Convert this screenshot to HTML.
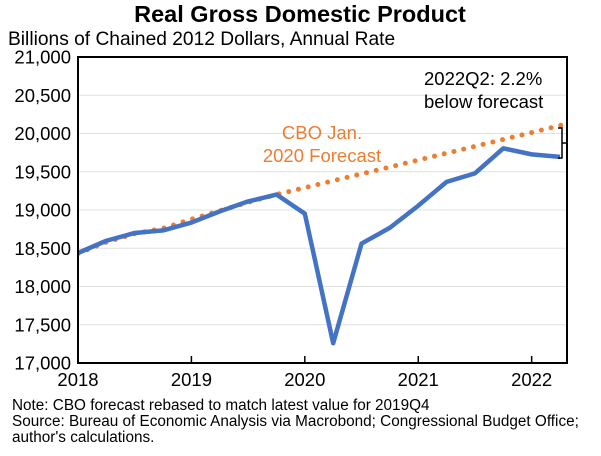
<!DOCTYPE html>
<html><head><meta charset="utf-8"><style>
body{margin:0;background:#fff;font-family:"Liberation Sans",Arial,sans-serif}
svg text{font-family:"Liberation Sans",Arial,sans-serif}
</style></head><body>
<svg id="c" width="601" height="451">
<text x="300" y="22" text-anchor="middle" font-size="23.5" font-weight="bold">Real Gross Domestic Product</text>
<text x="8" y="45" font-size="19.2">Billions of Chained 2012 Dollars, Annual Rate</text>
<g id="grid"></g>
<g id="series"></g>
<rect x="78" y="57" width="489" height="306" fill="none" stroke="#000" stroke-width="2"/>
<g id="axes"></g>
<path d="M558,128 h4 v15 h5 M562,143 v15 h-4" fill="none" stroke="#000" stroke-width="1.5"/>
<text x="424" y="85" font-size="18.5">2022Q2: 2.2%</text>
<text x="424" y="108" font-size="18.5">below forecast</text>
<text x="322" y="139" text-anchor="middle" font-size="18.5" fill="#ED7D31">CBO Jan.</text>
<text x="322" y="162" text-anchor="middle" font-size="18.5" fill="#ED7D31">2020 Forecast</text>
<text x="12" y="410" font-size="15.3">Note: CBO forecast rebased to match latest value for 2019Q4</text>
<text x="12" y="426" font-size="15.3">Source: Bureau of Economic Analysis via Macrobond; Congressional Budget Office;</text>
<text x="12" y="442" font-size="15.3">author's calculations.</text>
</svg>
<script>
const actual=[18438,18598,18700,18733,18836,18982,19112,19202,18952,17258,18561,18768,19056,19368,19479,19806,19727,19695];
const forecast=[18430,18580,18690,18760,18880,18990,19100,19202,19292,19382,19472,19562,19652,19742,19832,19922,20012,20105,20195];
const yTicks=[17000,17500,18000,18500,19000,19500,20000,20500,21000];
const xTicks=["2018","2019","2020","2021","2022"];
const NS="http://www.w3.org/2000/svg";
const X0=78,QW=(560-78)/17;
const x=i=>X0+i*QW;
const y=v=>363-(v-17000)/4000*306;
function mk(t,a,p){const e=document.createElementNS(NS,t);for(const k in a)e.setAttribute(k,a[k]);p.appendChild(e);return e;}
const grid=document.getElementById('grid'),axes=document.getElementById('axes'),ser=document.getElementById('series');
yTicks.forEach(v=>{
 const l=mk('line',{x1:78,x2:567,y1:y(v),y2:y(v),stroke:'#e0e0e0','stroke-width':1},grid);
 
 
 const t=mk('text',{x:71,y:y(v)+6.5,'text-anchor':'end','font-size':18.5},axes);
 t.textContent=v.toLocaleString('en-US');
 
 
});
xTicks.forEach((s,i)=>{
 const xx=x(i*4);
 const tk=mk('line',{x1:xx,x2:xx,y1:363,y2:356,stroke:'#000','stroke-width':1.5},axes);
 
 
 const t=mk('text',{x:xx,y:386,'text-anchor':'middle','font-size':18.5},axes);
 t.textContent=s;
 
 
});
const cp=mk('clipPath',{id:'clip'},ser);mk('rect',{x:78,y:57,width:489,height:306},cp);
const fp=mk('polyline',{points:forecast.map((v,i)=>x(i)+','+y(v)).join(' '),fill:'none',stroke:'#ED7D31','stroke-width':5,'stroke-linecap':'round','stroke-dasharray':'0 10','clip-path':'url(#clip)'},ser);


const ap=mk('polyline',{points:actual.map((v,i)=>x(i)+','+y(v)).join(' '),fill:'none',stroke:'#4472C4','stroke-width':4.5,'stroke-linejoin':'round'},ser);


</script>
</body></html>
